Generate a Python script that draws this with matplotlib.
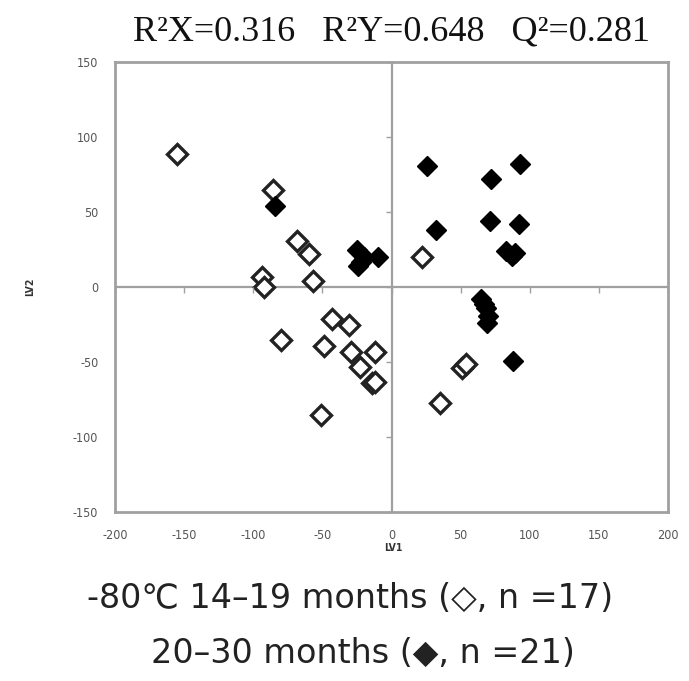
import matplotlib
matplotlib.use("Agg")
import matplotlib.pyplot as plt

plt.rcParams["axes.unicode_minus"] = False

# ---------------- data ----------------
open_x = [-155, -86, -68, -60, -57, -94, -92, -80, -43, -31, -49, -29, -23, -12, -14, -12, -51, 22, 51, 54, 35]
open_y = [89, 65, 31, 22, 4, 7, 0, -35, -21, -25, -39, -43, -53, -43, -64, -63, -85, 20, -54, -51, -77]

filled_x = [-84, -25, -24, -20, -10, -22, 26, 72, 93, 32, 71, 92, 83, 87, 89, 65, 68, 70, 69, 67, 88]
filled_y = [54, 25, 14, 20, 20, 17, 81, 72, 82, 38, 44, 42, 24, 21, 23, -8, -14, -19, -24, -11, -49]

xticks = [-200, -150, -100, -50, 0, 50, 100, 150, 200]
yticks = [-150, -100, -50, 0, 50, 100, 150]

title_text = "R\u00b2X=0.316   R\u00b2Y=0.648   Q\u00b2=0.281"
line1 = "-80\u2103 14\u201319 months (\u25c7, n =17)"
line2 = "20\u201330 months (\u25c6, n =21)"

W, H = 689, 681
fig = plt.figure(figsize=(W / 100, H / 100), dpi=100)
pos = [115 / W, 1 - 512 / H, (668 - 115) / W, (512 - 62) / H]
ax = fig.add_axes(pos)
ax.set_xlim(-200, 200)
ax.set_ylim(-150, 150)
ax.set_xticks(xticks)
ax.set_yticks(yticks)
for s in ax.spines.values():
    s.set_color("#a0a0a0")
    s.set_linewidth(2)
ax.tick_params(length=0, pad=12, labelsize=9, labelcolor="#555555")
for lab in ax.get_xticklabels() + ax.get_yticklabels():
    lab.set_fontstretch("condensed")
ax.axhline(0, color="#a0a0a0", lw=1.6, zorder=1)
ax.axvline(0, color="#a0a0a0", lw=1.6, zorder=1)

# tick marks on the zero axes
ax2 = fig.add_axes(pos, sharex=ax, sharey=ax)
ax2.patch.set_visible(False)
for k in ["top", "right"]:
    ax2.spines[k].set_visible(False)
ax2.spines["left"].set_position(("data", 0))
ax2.spines["bottom"].set_position(("data", 0))
ax2.spines["left"].set_visible(False)
ax2.spines["bottom"].set_visible(False)
ax2.tick_params(direction="out", length=4, width=1, color="#a0a0a0",
                labelbottom=False, labelleft=False)

ax.plot(open_x, open_y, ls="none", marker="D", ms=10.5, mfc="white",
        mec="#222222", mew=2.4, zorder=3)
ax.plot(filled_x, filled_y, ls="none", marker="D", ms=10.5, mfc="black",
        mec="black", mew=1, zorder=4)

fig.text(393 / W, 1 - 548 / H, "LV1", ha="center", va="center", fontsize=7.5,
         fontweight="bold", color="#333333", fontstretch="condensed")
fig.text(30 / W, 1 - 287 / H, "LV2", ha="center", va="center", fontsize=7.5,
         fontweight="bold", color="#333333", rotation=90, fontstretch="condensed")

fig.text(391 / W, 1 - 32 / H, title_text, ha="center", va="center", fontsize=26,
         family=["Liberation Serif", "DejaVu Serif"], color="#111111")

fig.text(350 / W, 1 - 598 / H, line1, ha="center", va="center", fontsize=24,
         color="#222222")
fig.text(363 / W, 1 - 653 / H, line2, ha="center", va="center", fontsize=24,
         color="#222222")

fig.savefig("out.png", dpi=100)
